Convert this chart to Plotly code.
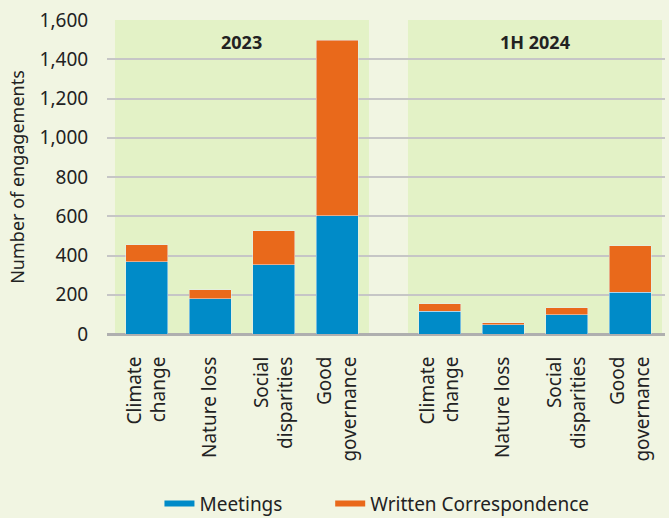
import plotly.graph_objects as go

categories = ["Climate<br>change", "Nature loss", "Social<br>disparities", "Good<br>governance"]
periods = ["2023", "1H 2024"]
meetings_2023 = [368, 179, 352, 603]
written_2023 = [87, 46, 174, 893]
meetings_2024 = [117, 46, 97, 214]
written_2024 = [36, 12, 36, 235]
y_ticks = [0, 200, 400, 600, 800, 1000, 1200, 1400, 1600]

BLUE = "#008BC8"
ORANGE = "#E9691B"
PAPER = "#F1F5E2"
GREEN = "#E3F2C6"
FONT = "Noto Sans"

fig = go.Figure()
# full-width helper subplot (drawn first) so gridlines span the gap
fig.add_trace(go.Scatter(x=[None], y=[None], xaxis="x", yaxis="y", showlegend=False, hoverinfo="skip"))

for xa, m, w in [("x2", meetings_2023, written_2023), ("x3", meetings_2024, written_2024)]:
    fig.add_trace(go.Bar(x=categories, y=m, marker_color=BLUE, xaxis=xa, yaxis="y",
                         showlegend=False, hoverinfo="y"))
    fig.add_trace(go.Bar(x=categories, y=w, marker_color=ORANGE, xaxis=xa, yaxis="y",
                         showlegend=False, hoverinfo="y"))

# legend entries as short dashes
fig.add_trace(go.Scatter(x=[None], y=[None], mode="lines", name="Meetings", legend="legend",
                         line=dict(color=BLUE, width=6), xaxis="x", yaxis="y"))
fig.add_trace(go.Scatter(x=[None], y=[None], mode="lines", name="Written Correspondence",
                         legend="legend2", line=dict(color=ORANGE, width=6), xaxis="x", yaxis="y"))

d1 = [0.0143, 0.4695]
d2 = [0.5394, 0.9946]

xcat = dict(anchor="y", showgrid=False, tickangle=-90, ticks="outside", ticklen=14,
            tickcolor="rgba(0,0,0,0)", tickfont=dict(size=19), automargin=False, fixedrange=True)

leg = dict(orientation="h", xanchor="left", y=-0.48, yanchor="top",
           font=dict(size=19), bgcolor="rgba(0,0,0,0)")

fig.update_layout(
    width=669, height=518,
    margin=dict(l=107, r=4, t=20, b=184, autoexpand=False),
    paper_bgcolor=PAPER, plot_bgcolor="rgba(0,0,0,0)",
    barmode="stack", bargap=0.34,
    font=dict(family=FONT, size=18, color="#222222"),
    xaxis=dict(domain=[0, 1], anchor="y", visible=False, range=[0, 1], automargin=False),
    xaxis2=dict(domain=d1, **xcat),
    xaxis3=dict(domain=d2, **xcat),
    yaxis=dict(range=[0, 1600], tickvals=y_ticks, tickformat=",", showgrid=True,
               gridcolor="#C6C6C6", gridwidth=2, zeroline=True, zerolinecolor="#AFAFAF",
               zerolinewidth=3, ticks="outside", ticklen=14, tickcolor="rgba(0,0,0,0)",
               tickfont=dict(size=19), automargin=False,
               title=dict(text="Number of engagements", font=dict(size=18), standoff=10)),
    legend=dict(x=0.094, **leg),
    legend2=dict(x=0.40, **leg),
    showlegend=True,
)

for xd, label in [("x2 domain", periods[0]), ("x3 domain", periods[1])]:
    fig.add_shape(type="rect", xref=xd, yref="y", x0=0, x1=1, y0=0, y1=1600,
                  fillcolor=GREEN, line=dict(width=0), layer="below")
    fig.add_annotation(xref=xd, yref="paper", x=0.5, y=0.93, text="<b>%s</b>" % label,
                       showarrow=False, font=dict(size=18, color="#222222"), yanchor="middle")

fig.write_html("out.html")
